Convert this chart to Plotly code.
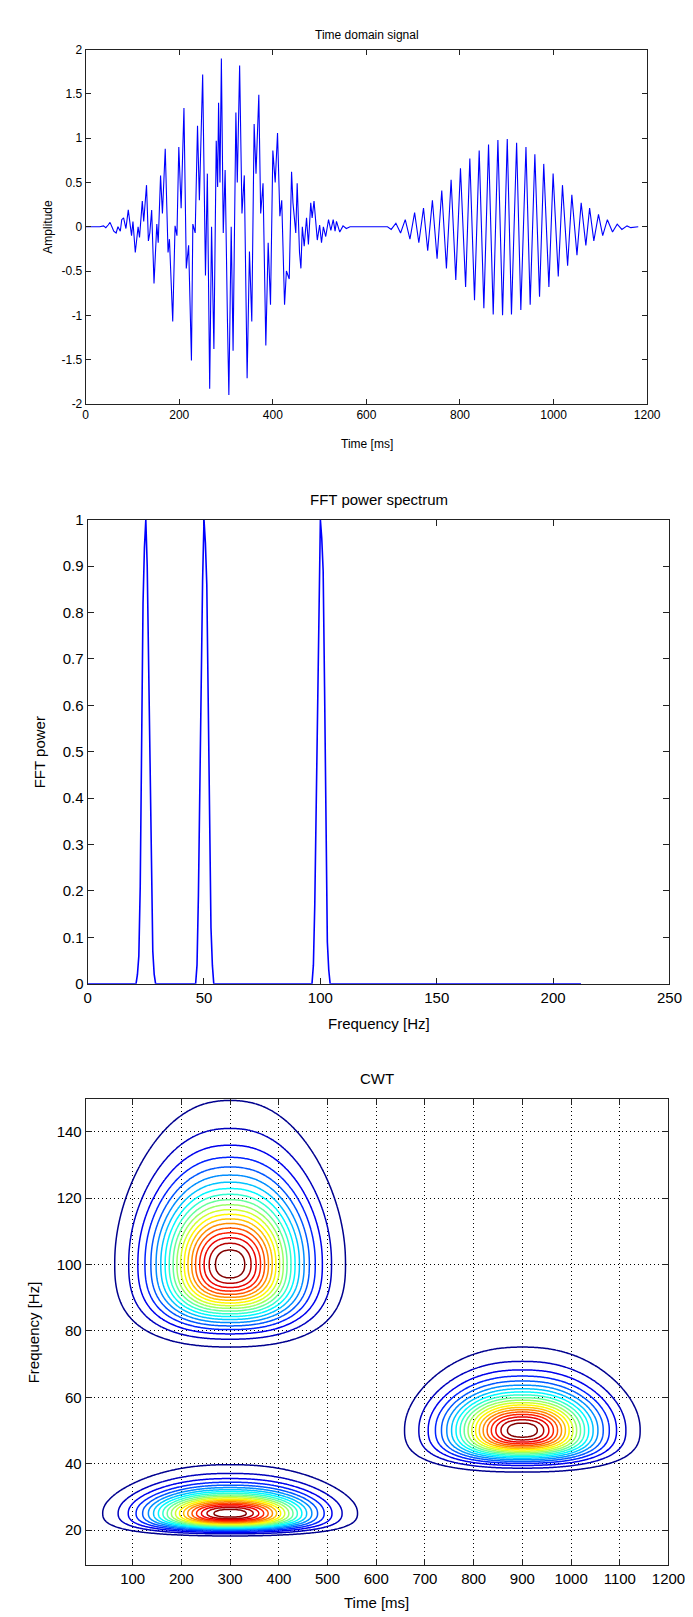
import numpy as np
import plotly.graph_objects as go

W, H = 693, 1617

# --- time domain signal: extrema (ms, amplitude) ---
sig_time = [0, 30, 38, 43, 48, 52, 56, 60, 65, 69, 74, 77, 81, 86, 91, 98, 101, 106, 112, 115,
            121, 124, 130, 134, 137, 141, 146, 152, 155, 160, 164, 170, 176, 179, 186, 191, 195, 199,
            204, 210, 215, 220, 226, 229, 234, 239, 243, 250, 256, 260, 265, 269, 274, 279, 282, 284,
            287, 290, 294, 298, 303, 306, 311, 315, 321, 324, 329, 334, 339, 345, 350, 355, 360, 364,
            370, 374, 379, 385, 390, 395, 400, 405, 410, 415, 419, 425, 429, 435, 440, 443, 449, 452,
            457, 460, 463, 467, 472, 476, 481, 484, 488, 495, 500, 504, 508, 513, 519, 524, 529, 533,
            536, 543, 550, 557, 565, 645, 653, 663, 673, 683, 693, 703, 712, 722, 731, 741, 751, 761,
            771, 781, 791, 801, 812, 821, 831, 841, 851, 861, 871, 881, 891, 901, 910, 921, 930, 941,
            950, 960, 970, 979, 990, 999, 1010, 1019, 1030, 1039, 1050, 1059, 1069, 1077, 1086, 1096,
            1105, 1115, 1126, 1136, 1146, 1157, 1165, 1181]
sig_amp = [0, 0, 0.01, -0.01, 0.02, 0.05, 0.0, -0.05, -0.07, 0.0, -0.05, 0.08, 0.1, -0.02, 0.19, -0.1,
           0.06, -0.29, 0.0, -0.12, 0.29, 0.06, 0.47, -0.16, -0.07, 0.19, -0.64, 0.03, -0.18, 0.58, 0.15,
           0.88, -0.29, -0.14, -1.07, 0.01, -0.1, 0.9, 0.21, 1.34, -0.47, -0.21, -1.51, 0.03, -0.07, 1.14,
           0.3, 1.72, -0.55, 0.6, -1.83, 0.0, -1.38, 0.97, 0.45, 1.4, 0.5, 1.9, -0.07, 0.64, -1.07, -1.9,
           0.0, -1.4, 1.29, 0.5, 1.82, 0.15, 0.58, -1.71, -0.28, -1.07, 1.16, 0.6, 1.49, 0.15, 0.49, -1.34,
           -0.18, -0.88, 0.86, 0.5, 1.06, 0.12, 0.3, -0.88, -0.5, -0.59, 0.62, 0.27, -0.07, 0.49, -0.29,
           -0.47, 0.0, -0.22, 0.1, -0.2, 0.27, 0.1, 0.29, -0.15, 0.02, -0.18, 0.0, -0.11, 0.08, -0.04,
           0.08, -0.05, 0.06, -0.06, 0.01, -0.02, 0.0, 0.0, -0.03, 0.04, -0.07, 0.08, -0.14, 0.16, -0.18,
           0.21, -0.27, 0.30, -0.36, 0.41, -0.47, 0.53, -0.60, 0.66, -0.68, 0.77, -0.83, 0.86, -0.92, 0.93,
           -0.99, 0.98, -1.0, 0.99, -0.99, 0.95, -0.94, 0.90, -0.88, 0.82, -0.79, 0.71, -0.68, 0.60, -0.56,
           0.47, -0.44, 0.36, -0.32, 0.27, -0.21, 0.21, -0.16, 0.14, -0.1, 0.08, -0.06, 0.03, -0.03, 0.01,
           -0.01, 0.0]

# --- FFT power spectrum (Hz, normalised power) ---
fft_freq = [0, 20.8, 21.4, 22.0, 22.6, 23.2, 23.8, 24.4, 25.0, 25.6, 26.2, 26.8, 27.4, 28.0, 28.6, 29.2,
            46.4, 47.0, 47.6, 48.2, 48.8, 49.4, 50.0, 50.6, 51.2, 51.8, 52.4, 53.0, 53.6, 54.2,
            96.4, 97.0, 97.6, 98.2, 98.8, 99.4, 100.0, 100.6, 101.2, 101.8, 102.4, 103.0, 103.6, 104.2, 212]
fft_power = [0, 0, 0.02, 0.06, 0.21, 0.55, 0.82, 0.94, 1.0, 0.90, 0.69, 0.48, 0.23, 0.07, 0.02, 0,
             0, 0.04, 0.19, 0.43, 0.63, 0.87, 1.0, 0.95, 0.86, 0.60, 0.32, 0.12, 0.04, 0,
             0, 0.04, 0.17, 0.39, 0.59, 0.84, 1.0, 0.96, 0.89, 0.64, 0.28, 0.09, 0.03, 0, 0]

# --- CWT blobs ---
blob_time = [300, 300, 900]           # ms
blob_freq = [100, 25, 50]             # Hz
blob_time_sigma = [96, 106, 98]       # ms
blob_scale_sigma = [0.00134, 0.006, 0.00271]   # 1/Hz
blob_shape = 2.3                      # ring roundness (2 = ellipse)
cwt_levels = [i / 21 for i in range(1, 21)]

t_grid = np.arange(0, 1201, 3.0)
f_grid = np.arange(9, 151, 0.5)
T, F = np.meshgrid(t_grid, f_grid)
Z = np.zeros_like(T)
for t0, f0, st, ss in zip(blob_time, blob_freq, blob_time_sigma, blob_scale_sigma):
    u = np.abs((T - t0) / st)
    v = np.abs((1 / F - 1 / f0) / ss)
    r = (u ** blob_shape + v ** blob_shape) ** (1 / blob_shape)
    Z += np.exp(-0.5 * r ** 2)

jet = [[0, "rgb(0,0,143)"], [0.125, "rgb(0,0,255)"], [0.375, "rgb(0,255,255)"],
       [0.625, "rgb(255,255,0)"], [0.875, "rgb(255,0,0)"], [1, "rgb(128,0,0)"]]

fig = go.Figure()
fig.add_trace(go.Scatter(x=sig_time, y=sig_amp, mode="lines", line=dict(color="#0000ff", width=1.1),
                         xaxis="x", yaxis="y", showlegend=False))
fig.add_trace(go.Scatter(x=fft_freq, y=fft_power, mode="lines", line=dict(color="#0000ff", width=1.6),
                         xaxis="x2", yaxis="y2", showlegend=False))
fig.add_trace(go.Contour(x=t_grid, y=f_grid, z=Z, colorscale=jet, zmin=0, zmax=1, showscale=False,
                         contours=dict(coloring="lines", start=cwt_levels[0], end=cwt_levels[-1],
                                       size=1 / 21),
                         line=dict(width=1.5), xaxis="x3", yaxis="y3", hoverinfo="skip"))


def dx(l, r):
    return [l / W, r / W]


def dy(t, b):
    return [1 - b / H, 1 - t / H]


small = dict(family="Liberation Sans Narrow, Arial Narrow, Liberation Sans, Arial", size=12, color="black")
big = dict(family="Liberation Sans, Arial, sans-serif", size=15, color="black")
axis_common = dict(showline=True, linecolor="#222", linewidth=1, mirror="ticks", ticks="inside",
                   zeroline=False, showgrid=False, tickcolor="#222")
grid_style = {"showgrid": True, "gridcolor": "black", "griddash": "1px,3px", "gridwidth": 1}

fig.update_layout(
    width=W, height=H, margin=dict(l=0, r=0, t=0, b=0),
    paper_bgcolor="white", plot_bgcolor="white",
    xaxis=dict(domain=dx(76, 655), range=[0, 1200], tickvals=[0, 200, 400, 600, 800, 1000, 1200],
               ticklen=5, tickfont=small, anchor="y", **axis_common),
    yaxis=dict(domain=dy(33, 391), range=[-2, 2], tickvals=[-2, -1.5, -1, -0.5, 0, 0.5, 1, 1.5, 2],
               ticktext=["-2", "-1.5", "-1", "-0.5", "0", "0.5", "1", "1.5", "2"],
               ticklen=5, tickfont=small, anchor="x", **axis_common),
    xaxis2=dict(domain=dx(78, 678), range=[0, 250], tickvals=[0, 50, 100, 150, 200, 250],
                ticklen=6, tickfont=big, anchor="y2", layer="below traces", **axis_common),
    yaxis2=dict(domain=dy(508, 977), range=[0, 1], tickvals=[i / 10 for i in range(11)],
                ticktext=["0", "0.1", "0.2", "0.3", "0.4", "0.5", "0.6", "0.7", "0.8", "0.9", "1"],
                ticklen=6, tickfont=big, anchor="x2", **axis_common),
    xaxis3=dict(domain=dx(76, 677), range=[3.5, 1200], tickvals=list(range(100, 1201, 100)),
                ticklen=6, tickfont=big, anchor="y3", **{**axis_common, **grid_style}),
    yaxis3=dict(domain=dy(1093, 1564), range=[9.6, 150], tickvals=[20, 40, 60, 80, 100, 120, 140],
                ticklen=6, tickfont=big, anchor="x3", **{**axis_common, **grid_style}),
)


def label(text, x, y, font, angle=0):
    fig.add_annotation(text=text, x=x / W, y=1 - y / H, xref="paper", yref="paper", showarrow=False,
                       font=font, textangle=angle, xanchor="center", yanchor="middle")


label("Time domain signal", 366, 18, small)
label("Time [ms]", 366, 432, small)
label("Amplitude", 37, 212, small, -90)
label("FFT power spectrum", 378, 488, big)
label("Frequency [Hz]", 378, 1017, big)
label("FFT power", 28, 743, big, -90)
label("CWT", 376, 1073, big)
label("Time [ms]", 376, 1602, big)
label("Frequency [Hz]", 22, 1329, big, -90)

fig.write_html("out.html")
